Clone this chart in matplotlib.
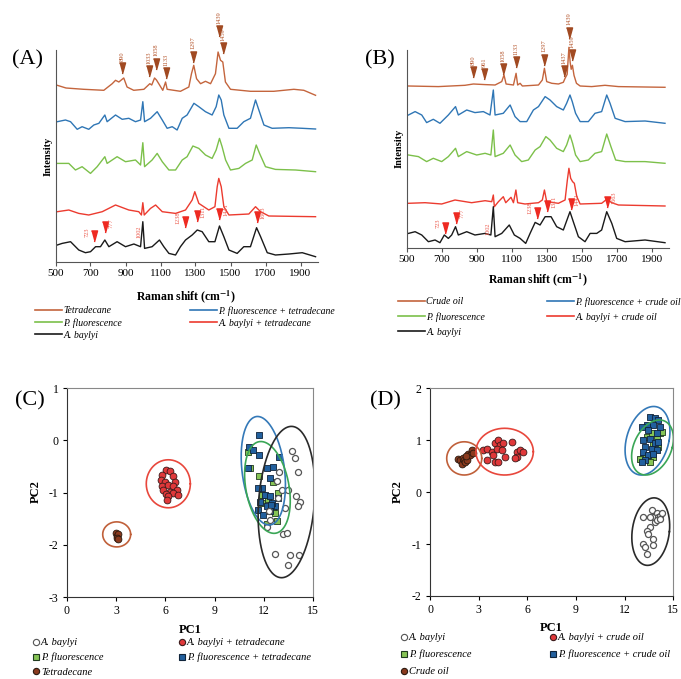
import numpy as np
import matplotlib
matplotlib.use("Agg")
import matplotlib.pyplot as plt
from matplotlib.lines import Line2D

plt.rcParams['font.family'] = ['Liberation Serif', 'DejaVu Serif']
plt.rcParams['mathtext.fontset'] = 'stix'
plt.rcParams['axes.unicode_minus'] = False

# ---------------- Raman spectra (wavenumber, intensity above own baseline)
# Panel A
a_tetra = [(510, 6.7), (560, 4), (661, 2.7), (776, 1.7), (824, 8.3), (843, 11.7), (862, 10), (890, 14),
           (909, 5), (947, 1.7), (1005, 2.7), (1039, 8.3), (1050, 7), (1066, 14), (1077, 12), (1090, 8.3),
           (1113, 1.7), (1129, 10), (1138, 2.7), (1214, 0.7), (1262, 5), (1277, 18.3), (1290, 26.7),
           (1306, 13.3), (1329, 8.3), (1357, 10.7), (1386, 8.3), (1414, 18.3), (1429, 40), (1443, 31.7),
           (1456, 30), (1471, 10), (1500, 2.7), (1614, 0.7), (1747, 0.7), (1862, 2.7), (1919, 1.7), (1986, -3.3)]
a_pf_tetra = [(510, 7.3), (557, 9), (586, 7.3), (624, -0.3), (652, 2.3), (690, -0.3), (719, 4), (748, 5.7),
              (782, 14), (795, 7.3), (843, 14), (881, 9.7), (919, 10.7), (957, 7.3), (986, 9), (999, 27.3),
              (1009, 7.3), (1043, 10.7), (1081, 17.3), (1110, 9), (1138, 0.7), (1167, 2.3), (1195, -1),
              (1224, 10.7), (1252, 14), (1291, 25.7), (1319, 22.3), (1357, 17.3), (1395, 14), (1418, 22.3),
              (1433, 34), (1447, 29), (1462, 14), (1491, 0.7), (1538, 0.7), (1576, 7.3), (1614, 10.7),
              (1643, 29), (1662, 19), (1691, 4), (1738, 0.7), (1834, 1.3), (1910, 0.7), (1986, 0)]
a_pf = [(510, 8.3), (576, 8.3), (614, 1.7), (652, 5), (700, -1.7), (738, 5), (782, 15), (795, 8.3),
        (852, 15), (900, 10), (957, 11.7), (986, 6.7), (999, 29), (1009, 5), (1052, 11.7), (1081, 18.3),
        (1110, 10), (1148, 1.7), (1186, 1.7), (1224, 11.7), (1252, 15), (1285, 25.7), (1319, 23.3),
        (1357, 16.7), (1395, 13.3), (1418, 21.7), (1437, 33.3), (1452, 25), (1472, 11.7), (1500, 1.7),
        (1548, 3.3), (1586, 8.3), (1624, 11.7), (1647, 26.7), (1666, 18.3), (1700, 5), (1757, 2.3),
        (1872, 1.7), (1986, 0)]
a_ab_tetra = [(510, 5), (576, 6.7), (633, 3.3), (690, 1.7), (767, 5), (843, 11.7), (919, 6.7), (976, 5),
              (991, 1.7), (999, 14), (1007, 1.7), (1043, 8.3), (1072, 11.7), (1110, 5), (1186, 3.3),
              (1243, 6.7), (1281, 16.7), (1296, 25), (1319, 13.3), (1376, 6.7), (1411, 10), (1424, 30),
              (1433, 38.3), (1447, 30), (1462, 10), (1491, 1.7), (1605, 2.7), (1643, 10), (1672, 5),
              (1719, 0.7), (1986, 0)]
a_ab = [(510, 11.7), (538, 13.3), (586, 15), (633, 6.7), (671, 4), (700, 5), (729, 10), (757, 10),
        (782, 16.7), (805, 10), (852, 15), (900, 10), (948, 12.7), (986, 10), (999, 35), (1009, 8.3),
        (1052, 10), (1094, 16.7), (1119, 10), (1148, 3.3), (1186, 1.7), (1214, 10), (1243, 16.7),
        (1281, 21.7), (1310, 26.7), (1338, 25), (1376, 15), (1411, 15), (1437, 30.7), (1462, 20),
        (1491, 6.7), (1538, 3.3), (1576, 10), (1614, 10), (1649, 29), (1672, 20), (1710, 4), (1757, 1.7),
        (1834, 2.7), (1910, 4), (1986, 0)]

# Panel B
b_crude = [(510, 1.3), (681, 0.7), (833, 2), (881, 3.3), (948, 2.7), (1005, 2.3), (1043, 5.7), (1056, 12.3),
           (1068, 3.3), (1110, 2.3), (1125, 14), (1134, 2.3), (1148, 4), (1161, 1.3), (1253, 2.3), (1275, 7.3),
           (1287, 19), (1300, 5.7), (1329, 4), (1367, 3.3), (1395, 5), (1405, 9), (1417, 13), (1427, 40),
           (1434, 25), (1440, 18), (1447, 22), (1456, 12), (1470, 4), (1491, 1.3), (1557, 0.7), (1633, 2),
           (1710, 0.7), (1976, 0)]
b_pf_crude = [(510, 8.3), (548, 11.7), (586, 8.3), (614, 0.7), (652, 4), (690, 0), (738, 8.3), (779, 16.7),
              (795, 8.3), (843, 13.3), (890, 10.7), (938, 11.7), (976, 8.3), (995, 33.3), (1005, 8.3),
              (1052, 10), (1091, 18.3), (1119, 6.7), (1148, 1.7), (1186, 1.7), (1224, 13.3), (1253, 16.7),
              (1291, 26.7), (1319, 23.3), (1357, 16.7), (1395, 13.3), (1414, 20), (1433, 28.3), (1446, 21.7),
              (1465, 10), (1491, 1.7), (1538, 1.7), (1576, 10), (1614, 11.7), (1643, 28.3), (1662, 20),
              (1691, 5), (1748, 1.7), (1862, 2.3), (1976, 0)]
b_pf = [(510, 8.3), (567, 6.7), (614, 1.7), (652, 5), (700, 1.7), (738, 6.7), (779, 15), (795, 6.7),
        (843, 11.7), (900, 8.3), (948, 10), (981, 8.3), (995, 33.3), (1005, 6.7), (1052, 10), (1091, 18.3),
        (1119, 8.3), (1157, 1.7), (1195, 3.3), (1234, 13.3), (1262, 16.7), (1295, 26.7), (1319, 23.3),
        (1357, 15), (1395, 11.7), (1414, 18.3), (1433, 28.3), (1448, 20), (1465, 8.3), (1491, 1.7),
        (1538, 3.3), (1576, 10), (1614, 11.7), (1643, 29.3), (1667, 16.7), (1694, 3.3), (1748, 1.7),
        (1862, 1.7), (1976, 0)]
b_ab_crude = [(510, 2.7), (605, 3.3), (700, 2), (776, 6), (871, 3.3), (948, 5.3), (986, 4.3), (995, 11),
              (1001, -0.7), (1024, 4.3), (1052, 9.3), (1066, 3.3), (1096, 8.7), (1110, 3.3), (1124, 16),
              (1134, 3.3), (1176, 2), (1253, 3.3), (1275, 6), (1287, 16), (1300, 4.3), (1367, 2.7),
              (1405, 6), (1418, 26), (1427, 37.7), (1437, 27.7), (1448, 24.3), (1458, 22.7), (1472, 9.3),
              (1491, 2), (1614, 2.7), (1643, 6.7), (1672, 3.3), (1710, 1), (1976, 0)]
b_ab = [(510, 9.3), (548, 11), (586, 7.7), (624, 1), (662, 2.7), (690, 0), (715, 7.7), (738, 4.3),
        (757, 7.7), (779, 16), (795, 7.7), (843, 11), (890, 7.7), (948, 9.3), (981, 7.7), (995, 36),
        (1005, 6), (1043, 9.3), (1086, 17.7), (1115, 7.7), (1148, 4.3), (1180, -0.7), (1205, 9.3),
        (1234, 20.3), (1262, 17.7), (1291, 26), (1325, 26), (1357, 16), (1395, 12.7), (1433, 31),
        (1452, 21), (1481, 6), (1519, 1), (1548, 9.3), (1586, 9.3), (1614, 12.7), (1643, 31),
        (1672, 19.3), (1700, 4.3), (1748, 1), (1862, 2.7), (1976, 0)]

# peak markers: (label, wavenumber position, gap above the trace)
a_mix_peaks = [('890', 881, 5.6), ('1033', 1037, 7), ('1058', 1077, 10.6), ('1133', 1131, 4.6),
               ('1297', 1287, 5), ('1439', 1435, 18.6), ('1459', 1456, 8)]
b_mix_peaks = [('890', 881, 6), ('961', 943, 4.5), ('1058', 1052, 2), ('1133', 1124, 6),
               ('1297', 1285, 5), ('1437', 1400, 3.3), ('1439', 1427, 9), ('1459', 1446, 5)]
# (label, position, gap, side of text)
a_cell_peaks = [('723', 719, 6.6, -1), ('777', 782, 7, 1), ('1238', 1239, 13, -1),
                ('1311', 1306, 8.7, 1), ('1441', 1437, 6, 1), ('1663', 1649, 5, 1)]
b_cell_peaks = [('723', 719, 2.3, -1), ('777', 780, 4, 1), ('1238', 1243, 5, -1),
                ('1311', 1304, 5, 1), ('1441', 1437, 4, 1), ('1663', 1646, 5, 1)]

a_names = ['Tetradecane', 'P. fluorescence + tetradecane', 'P. fluorescence',
           'A. baylyi + tetradecane', 'A. baylyi']
b_names = ['Crude oil', 'P. fluorescence + crude oil', 'P. fluorescence',
           'A. baylyi + crude oil', 'A. baylyi']

# ---------------- PCA scores
c_ab = [(13.68, -0.21), (13.89, -0.34), (14.05, -0.61), (12.91, -0.61), (12.77, -0.77), (13.48, -0.94),
        (13.07, -0.94), (13.95, -1.06), (14.19, -1.17), (14.09, -1.25), (13.28, -1.30), (12.87, -1.10),
        (12.32, -1.36), (12.37, -1.52), (12.17, -1.65), (13.18, -1.80), (13.38, -1.78), (12.67, -2.17),
        (13.58, -2.20), (14.13, -2.19), (13.48, -2.38)]
c_pf = [(11.05, -0.23), (11.15, -0.53), (11.72, -0.69), (11.96, -1.04), (12.57, -0.79), (12.87, -1.01),
        (12.57, -1.36), (12.27, -1.13), (11.86, -1.20), (12.77, -1.55), (12.17, -1.61), (12.67, -1.39),
        (11.86, -1.04)]
c_pf_mix = [(11.72, 0.11), (11.11, -0.12), (11.35, -0.19), (11.72, -0.28), (11.05, -0.53), (12.17, -0.53),
            (12.57, -0.50), (12.93, -0.32), (12.37, -0.72), (11.86, -0.91), (11.66, -0.91), (12.06, -1.04),
            (12.37, -1.07), (12.87, -1.10), (11.76, -1.17), (12.17, -1.26), (12.67, -1.26), (12.47, -1.20),
            (11.66, -1.33), (12.37, -1.36), (11.96, -1.42), (12.42, -1.23)]
c_ab_mix = [(6.02, -0.56), (6.28, -0.59), (5.78, -0.66), (6.49, -0.69), (5.72, -0.75), (6.59, -0.79),
            (5.98, -0.79), (5.78, -0.87), (6.18, -0.85), (6.49, -0.88), (6.69, -0.94), (5.88, -0.94),
            (6.28, -0.98), (6.02, -1.02), (6.49, -1.01), (6.79, -1.04), (6.18, -1.07), (6.08, -1.15)]
c_sub = [(3.00, -1.78), (3.08, -1.84), (3.12, -1.80), (3.04, -1.86), (3.15, -1.88)]

d_ab = [(13.15, -0.48), (13.67, -0.35), (13.77, -0.48), (13.97, -0.41), (14.08, -0.48), (14.18, -0.45),
        (14.28, -0.41), (13.87, -0.58), (13.57, -0.67), (13.36, -0.74), (13.46, -0.80), (13.77, -0.90),
        (13.15, -0.99), (13.26, -1.06), (13.77, -1.02), (13.36, -1.19), (13.97, -0.54), (13.57, -0.48),
        (14.18, -0.51)]
d_pf = [(14.18, 1.13), (13.97, 1.03), (14.28, 1.16), (13.77, 0.94), (13.46, 0.68), (13.77, 0.68),
        (13.15, 0.65), (12.95, 0.63), (13.57, 0.58), (14.08, 0.87), (13.36, 1.07), (13.67, 1.13)]
d_pf_mix = [(13.57, 1.45), (13.87, 1.42), (14.08, 1.39), (13.36, 1.29), (13.77, 1.29), (14.18, 1.26),
            (13.05, 1.26), (13.46, 1.19), (13.97, 1.13), (13.15, 1.00), (13.57, 1.03), (13.87, 0.94),
            (14.08, 0.97), (13.26, 0.87), (13.67, 0.84), (13.97, 0.81), (13.15, 0.78), (13.46, 0.71),
            (13.26, 0.62), (13.05, 0.58), (13.77, 0.74)]
d_ab_mix = [(3.29, 0.81), (3.49, 0.84), (3.80, 0.78), (4.01, 0.94), (4.21, 1.00), (4.31, 0.91), (4.52, 0.94),
            (4.11, 0.84), (3.90, 0.71), (3.49, 0.62), (4.01, 0.58), (4.21, 0.58), (4.62, 0.68), (5.03, 0.96),
            (5.34, 0.78), (5.55, 0.81), (5.75, 0.78), (5.34, 0.68), (5.24, 0.65), (4.42, 0.81)]
d_sub = [(1.75, 0.63), (1.85, 0.62), (1.95, 0.55), (2.05, 0.65), (2.10, 0.62), (2.16, 0.58), (2.26, 0.68),
         (2.30, 0.62), (2.36, 0.74), (2.47, 0.71), (2.57, 0.81), (2.67, 0.76), (2.20, 0.70)]

# group ellipses: (centre x, centre y, half width, half height, top shift)
c_ell = {'sub': (3.04, -1.80, 0.85, 0.24, 0), 'ab_mix': (6.18, -0.83, 1.34, 0.46, 0),
         'pf_mix': (11.96, -0.58, 1.30, 1.04, -0.35), 'pf': (12.21, -0.90, 1.33, 0.88, -0.4),
         'ab': (13.37, -1.18, 1.70, 1.45, 0.3)}
d_ell = {'sub': (2.11, 0.65, 1.08, 0.32, 0), 'ab_mix': (4.60, 0.78, 1.77, 0.45, 0),
         'pf_mix': (13.41, 0.99, 1.33, 0.66, 0.38), 'pf': (13.72, 0.86, 1.22, 0.53, 0.42),
         'ab': (13.61, -0.76, 1.15, 0.65, 0.2)}

# ---------------- colours
c_brown = '#c4653d'
c_blue = '#2f76b5'
c_green = '#7cc04a'
c_red = '#ec3b2f'
c_black = '#1a1a1a'
spec_colors = [c_brown, c_blue, c_green, c_red, c_black]

fig = plt.figure(figsize=(6.81, 6.79), dpi=100)
W, H = 681.0, 679.0


def px_axes(left, top, right, bottom):
    return fig.add_axes([left / W, 1 - bottom / H, (right - left) / W, (bottom - top) / H])


tri = [(-0.55, 1), (0.55, 1), (0, -1)]


def spectra_panel(ax, spectra, offsets, mix_peaks, cell_peaks, spike_dx, height):
    for s, off, col in zip(spectra, offsets, spec_colors):
        arr = np.array(s)
        ax.plot(arr[:, 0], arr[:, 1] + off, color=col, lw=1.0, clip_on=False)
    top = np.array(spectra[0])
    for lab, x, gap in mix_peaks:
        tip = np.interp(x, top[:, 0], top[:, 1]) + offsets[0] + gap
        ax.plot(x, tip + 5.6, marker=tri, ms=8, color='#a14a22', clip_on=False)
        ax.text(x, tip + 13, lab, rotation=90, fontsize=4.6, color='#b5562d',
                ha='center', va='bottom')
    bot = np.array(spectra[4])
    for lab, x, gap, side in cell_peaks:
        tip = np.interp(x, bot[:, 0], bot[:, 1]) + offsets[4] + gap
        ax.plot(x, tip + 5.6, marker=tri, ms=8, color='#ee2a22', clip_on=False)
        ax.text(x + side * 38, tip + 10, lab, rotation=90, fontsize=4.6, color='#ec5a4c',
                ha='center', va='center')
    spike = np.interp(999, bot[:, 0], bot[:, 1]) + offsets[4]
    ax.text(1002 + spike_dx, spike - 10, '1002', rotation=90, fontsize=4.6, color='#ec5a4c',
            ha='center', va='center')
    ax.set_xlim(500, 2000)
    ax.set_ylim(0, height)
    ax.set_xticks(range(500, 2000, 200))
    ax.set_yticks([])
    for sp in ['top', 'right']:
        ax.spines[sp].set_visible(False)
    for sp in ['left', 'bottom']:
        ax.spines[sp].set_color('#555555')
        ax.spines[sp].set_linewidth(0.8)
    ax.tick_params(axis='x', direction='out', length=3, width=0.8, color='#555555',
                   labelsize=8, pad=2)


axA = px_axes(55.5, 50, 318, 262)
spectra_panel(axA, [a_tetra, a_pf_tetra, a_pf, a_ab_tetra, a_ab], [170, 133, 90.3, 45.3, 5.3],
              a_mix_peaks, a_cell_peaks, -27, 212)
axB = px_axes(406.7, 50, 669.2, 248.3)
spectra_panel(axB, [b_crude, b_pf_crude, b_pf, b_ab_crude, b_ab], [161, 125, 85, 42.3, 5.6],
              b_mix_peaks, b_cell_peaks, -36, 198.3)

fig.text(186.5 / W, 1 - 297 / H, r'Raman shift (cm$^{\mathbf{-1}}$)', fontsize=8.5, fontweight='bold',
         ha='center', va='center')
fig.text(538 / W, 1 - 280 / H, r'Raman shift (cm$^{\mathbf{-1}}$)', fontsize=8.5, fontweight='bold',
         ha='center', va='center')
fig.text(48 / W, 1 - 156 / H, 'Intensity', fontsize=7.5, fontweight='bold', rotation=90,
         ha='center', va='center')
fig.text(399 / W, 1 - 148 / H, 'Intensity', fontsize=7.5, fontweight='bold', rotation=90,
         ha='center', va='center')


def line_legend(names, order, x, y, spacing):
    handles = [Line2D([], [], color=spec_colors[i], lw=1.2) for i in order]
    fig.legend(handles, [names[i] for i in order], loc='upper left', bbox_to_anchor=(x / W, 1 - y / H),
               frameon=False, borderpad=0, borderaxespad=0, handlelength=2.8, handletextpad=0.1,
               labelspacing=spacing, prop={'style': 'italic', 'size': 7})


line_legend(a_names, [0, 2, 4], 35, 306, 0.3)
line_legend(a_names, [1, 3], 190, 306, 0.3)
line_legend(b_names, [0, 2, 4], 398, 297, 0.62)
line_legend(b_names, [1, 3], 547, 297, 0.62)

# ---------------- PCA panels
ell_colors = {'sub': '#c0603a', 'ab_mix': '#e8473c', 'pf_mix': '#3479b8', 'pf': '#3aa656', 'ab': '#2a2a2a'}
t = np.linspace(0, 2 * np.pi, 240)


def pca_panel(ax, groups, ells, ylim, yticks):
    ab, pf, pf_mix, ab_mix, sub = [np.array(g) for g in groups]
    ax.scatter(sub[:, 0], sub[:, 1], s=24, c='#8a3a1e', edgecolors='#2a1a10', linewidths=0.6, zorder=3)
    ax.scatter(ab_mix[:, 0], ab_mix[:, 1], s=24, c='#e0383a', edgecolors='#3a1a1a', linewidths=0.6, zorder=3)
    ax.scatter(pf[:, 0], pf[:, 1], s=22, marker='s', c='#86c455', edgecolors='#1f3a1f', linewidths=0.6,
               zorder=3)
    ax.scatter(pf_mix[:, 0], pf_mix[:, 1], s=22, marker='s', c='#22609e', edgecolors='#10243a',
               linewidths=0.6, zorder=3)
    ax.scatter(ab[:, 0], ab[:, 1], s=19, c='white', edgecolors='#555555', linewidths=0.9, zorder=4)
    for key, (cx, cy, hw, hh, dx) in ells.items():
        ax.plot(cx + hw * np.cos(t) + dx * np.sin(t), cy + hh * np.sin(t), color=ell_colors[key],
                lw=1.2, zorder=5)
    ax.set_xlim(0, 15)
    ax.set_ylim(*ylim)
    ax.set_xticks(range(0, 16, 3))
    ax.set_yticks(yticks)
    for sp in ax.spines.values():
        sp.set_color('#888888')
        sp.set_linewidth(0.8)
    ax.spines['left'].set_color('#333333')
    ax.spines['bottom'].set_color('#333333')
    ax.tick_params(direction='out', length=3, width=0.8, labelsize=8.5, pad=3)


axC = px_axes(66.7, 388.3, 313.3, 597)
pca_panel(axC, [c_ab, c_pf, c_pf_mix, c_ab_mix, c_sub], c_ell, (-3, 1), [-3, -2, -1, 0, 1])
axD = px_axes(430, 388.3, 673.3, 596)
pca_panel(axD, [d_ab, d_pf, d_pf_mix, d_ab_mix, d_sub], d_ell, (-2, 2), [-2, -1, 0, 1, 2])

fig.text(190 / W, 1 - 630 / H, 'PC1', fontsize=9, fontweight='bold', ha='center', va='center')
fig.text(551.7 / W, 1 - 628 / H, 'PC1', fontsize=9, fontweight='bold', ha='center', va='center')
fig.text(36 / W, 1 - 492 / H, 'PC2', fontsize=9, fontweight='bold', rotation=90, ha='center', va='center')
fig.text(397.5 / W, 1 - 492 / H, 'PC2', fontsize=9, fontweight='bold', rotation=90, ha='center', va='center')

mk = {'ab': dict(marker='o', mfc='white', mec='#555555'),
      'pf': dict(marker='s', mfc='#86c455', mec='#1f3a1f'),
      'sub': dict(marker='o', mfc='#8a3a1e', mec='#2a1a10'),
      'ab_mix': dict(marker='o', mfc='#e0383a', mec='#3a1a1a'),
      'pf_mix': dict(marker='s', mfc='#22609e', mec='#10243a')}


def marker_legend(keys, names, x, y, spacing):
    handles = [Line2D([], [], ls='', ms=4.5, mew=0.8, **mk[k]) for k in keys]
    fig.legend(handles, names, loc='upper left', bbox_to_anchor=(x / W, 1 - y / H), frameon=False,
               borderpad=0, borderaxespad=0, handlelength=0.6, handletextpad=0.15, labelspacing=spacing,
               prop={'style': 'italic', 'size': 7.5})


marker_legend(['ab', 'pf', 'sub'], ['A. baylyi', 'P. fluorescence', 'Tetradecane'], 33, 638, 0.52)
marker_legend(['ab_mix', 'pf_mix'], ['A. baylyi + tetradecane', 'P. fluorescence + tetradecane'], 179, 638, 0.52)
marker_legend(['ab', 'pf', 'sub'], ['A. baylyi', 'P. fluorescence', 'Crude oil'], 401, 633, 0.72)
marker_legend(['ab_mix', 'pf_mix'], ['A. baylyi + crude oil', 'P. fluorescence + crude oil'], 550, 633, 0.72)

for lab, x, y in [('(A)', 12, 60), ('(B)', 365, 60), ('(C)', 15, 401), ('(D)', 370, 401)]:
    fig.text(x / W, 1 - y / H, lab, fontsize=16, ha='left', va='center')

fig.savefig('out.png', dpi=100)
